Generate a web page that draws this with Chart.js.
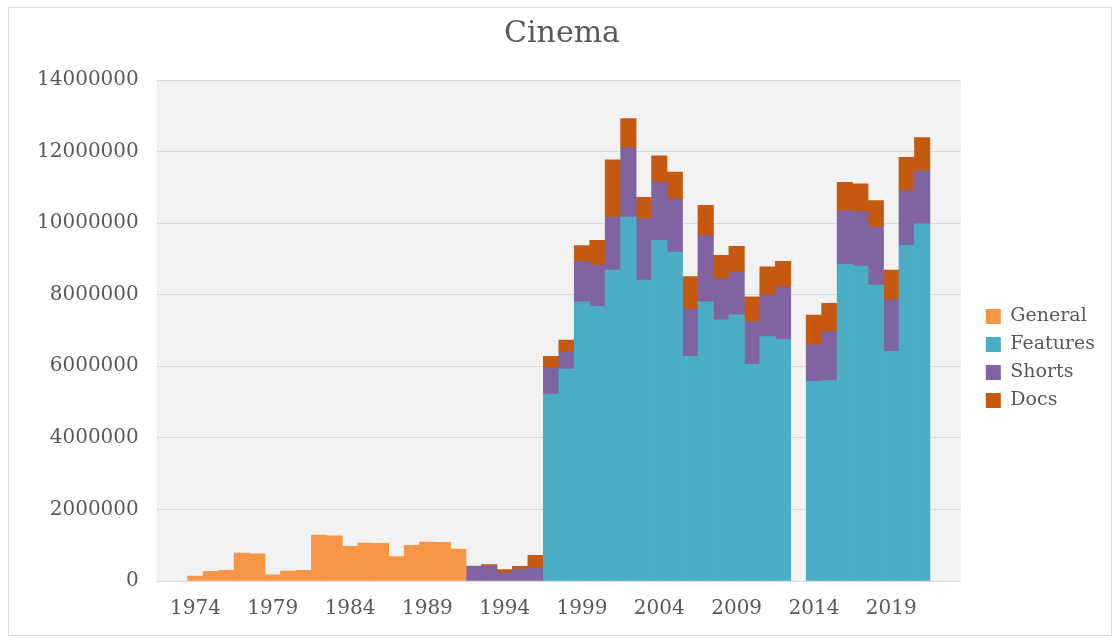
<!DOCTYPE html>
<html>
<head>
<meta charset="utf-8">
<title>Cinema</title>
<script src="https://cdn.jsdelivr.net/npm/chart.js@4"></script>
<style>
  html, body { margin: 0; padding: 0; background: #ffffff; }
  #wrap { position: relative; width: 1120px; height: 644px; }
</style>
</head>
<body>
<div id="wrap"><canvas id="cinema_chart"></canvas></div>
<script>
const years = [
  1972, 1973, 1974, 1975, 1976, 1977, 1978, 1979, 1980, 1981,
  1982, 1983, 1984, 1985, 1986, 1987, 1988, 1989, 1990, 1991,
  1992, 1993, 1994, 1995, 1996, 1997, 1998, 1999, 2000, 2001,
  2002, 2003, 2004, 2005, 2006, 2007, 2008, 2009, 2010, 2011,
  2012, 2013, 2014, 2015, 2016, 2017, 2018, 2019, 2020, 2021,
  2022, 2023
];

// values, one per year (null = no bar)
const general = [
  null, null, 140000, 270000, 300000, 780000, 760000, 170000, 280000, 300000,
  1280000, 1260000, 970000, 1060000, 1050000, 680000, 1000000, 1090000, 1080000, 890000,
  null, null, null, null, null, null, null, null, null, null,
  null, null, null, null, null, null, null, null, null, null,
  null, null, null, null, null, null, null, null, null, null,
  null, null
];
const features = [
  null, null, null, null, null, null, null, null, null, null,
  null, null, null, null, null, null, null, null, null, null,
  null, null, null, null, null, 5220000, 5920000, 7800000, 7670000, 8690000,
  10170000, 8410000, 9520000, 9190000, 6280000, 7800000, 7300000, 7440000, 6050000, 6830000,
  6750000, null, 5580000, 5600000, 8850000, 8800000, 8270000, 6420000, 9380000, 9980000,
  null, null
];
const shorts = [
  null, null, null, null, null, null, null, null, null, null,
  null, null, null, null, null, null, null, null, null, null,
  420000, 420000, 220000, 330000, 360000, 730000, 480000, 1130000, 1160000, 1480000,
  1940000, 1710000, 1620000, 1480000, 1310000, 1850000, 1150000, 1190000, 1200000, 1170000,
  1470000, null, 1020000, 1370000, 1500000, 1520000, 1620000, 1440000, 1530000, 1480000,
  null, null
];
const docs = [
  null, null, null, null, null, null, null, null, null, null,
  null, null, null, null, null, null, null, null, null, null,
  null, 40000, 100000, 80000, 360000, 330000, 330000, 440000, 690000, 1600000,
  810000, 600000, 740000, 760000, 920000, 850000, 650000, 720000, 690000, 780000,
  710000, null, 830000, 790000, 790000, 780000, 740000, 830000, 930000, 930000,
  null, null
];

const yTicks = [0, 2000000, 4000000, 6000000, 8000000, 10000000, 12000000, 14000000];

const text_color = '#595959';
const grid_color = '#D9D9D9';

Chart.defaults.font.family = "'DejaVu Serif', serif";
Chart.defaults.color = text_color;

// grey plot area + thin frame round the whole chart
const plotBackground = {
  id: 'plotBackground',
  beforeDraw(chart) {
    const { ctx, chartArea } = chart;
    ctx.save();
    ctx.fillStyle = '#ffffff';
    ctx.fillRect(0, 0, chart.width, chart.height);
    ctx.strokeStyle = grid_color;
    ctx.lineWidth = 1;
    ctx.strokeRect(8.5, 7.5, chart.width - 17, chart.height - 16);
    ctx.fillStyle = '#F2F2F2';
    ctx.fillRect(chartArea.left, chartArea.top, chartArea.right - chartArea.left, chartArea.bottom - chartArea.top);
    ctx.restore();
  }
};

function series(label, data, color) {
  return {
    label: label,
    data: data,
    backgroundColor: color,
    borderWidth: 0,
    barPercentage: 1,
    categoryPercentage: 1,
    xAxisID: 'x',
    yAxisID: 'y'
  };
}

const ctx_cinema = document.getElementById('cinema_chart');

const cinemaChart = new Chart(ctx_cinema, {
  type: 'bar',
  data: {
    labels: years,
    datasets: [
      series('General', general, '#F79646'),
      series('Features', features, '#4BACC6'),
      series('Shorts', shorts, '#8064A2'),
      series('Docs', docs, '#C4590F')
    ]
  },
  plugins: [plotBackground],
  options: {
    responsive: true,
    maintainAspectRatio: false,
    animation: false,
    layout: {
      padding: { left: 19, top: 10, right: 15, bottom: 7 }
    },
    scales: {
      x: {
        stacked: true,
        grid: { display: false, drawTicks: false },
        border: { display: true, color: grid_color, width: 1 },
        ticks: {
          autoSkip: false,
          maxRotation: 0,
          padding: 16,
          color: text_color,
          font: { size: 20 },
          callback: function (value) {
            const year = years[value];
            return (year - 1974) % 5 === 0 ? String(year) : '';
          }
        }
      },
      y: {
        stacked: true,
        min: 0,
        max: 14000000,
        afterBuildTicks: (scale) => {
          scale.ticks = yTicks.map(v => ({ value: v }));
        },
        grid: { color: grid_color, drawTicks: false },
        border: { display: false },
        ticks: {
          padding: 18,
          color: text_color,
          font: { size: 20 },
          callback: (value) => String(value)
        }
      },
      spacer: {
        type: 'linear',
        position: 'right',
        display: true,
        grid: { display: false, drawTicks: false },
        border: { display: false },
        ticks: { display: false },
        afterFit: (scale) => { scale.width = 16; }
      }
    },
    plugins: {
      title: {
        display: true,
        text: 'Cinema',
        color: text_color,
        font: { size: 30, weight: 'normal' },
        padding: { top: 6, bottom: 28 }
      },
      legend: {
        position: 'right',
        title: { display: true, text: '', font: { size: 10 }, padding: { top: 0, bottom: 58 } },
        labels: {
          boxWidth: 15,
          boxHeight: 15,
          padding: 9,
          color: text_color,
          font: { size: 19 }
        }
      },
      tooltip: { enabled: false }
    }
  }
});
</script>
</body>
</html>
